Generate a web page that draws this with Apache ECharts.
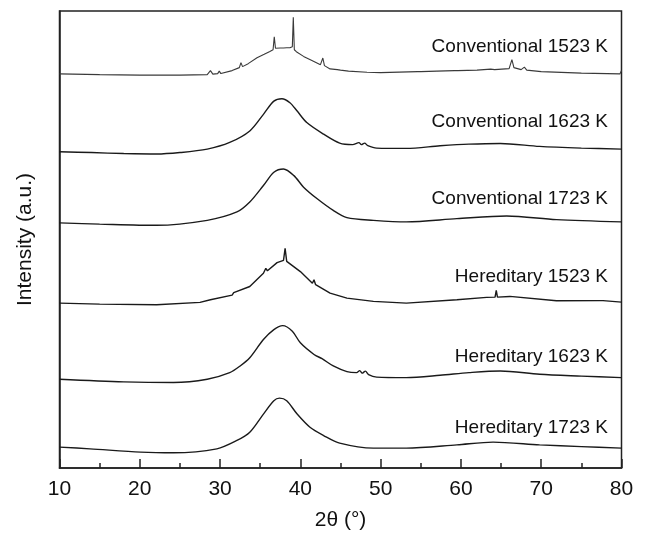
<!DOCTYPE html>
<html>
<head>
<meta charset="utf-8">
<script src="https://cdn.jsdelivr.net/npm/echarts@6/dist/echarts.min.js"></script>
<style>html,body{margin:0;padding:0;background:#fff}#c{width:646px;height:536px}</style>
</head>
<body>
<div id="c"></div>
<script>
// 2θ (deg), intensity (a.u., stacked with offsets already included)
const conv1523 = [[10,396.7],[15,396],[20,395.5],[25,395.5],[28.4,396],[28.8,400],[29.1,396.5],[29.7,397],[29.9,399.5],[30.1,397],[31.5,400],[32.4,403],[32.6,408],[32.8,404],[33.5,407],[34.6,413],[35.5,416.5],[36.2,419.3],[36.6,421],[36.75,434],[36.9,422.5],[37.5,422.7],[37.7,424.5],[37.9,422.7],[38.3,423],[38.45,425],[38.7,423],[39.0,424],[39.12,453.7],[39.25,421],[39.5,419],[40.4,414.3],[41.5,410],[42.5,406],[42.8,412.7],[43.0,405],[43.7,401.7],[44.6,401],[44.8,403],[45.0,400.5],[46,399.5],[48.3,398.3],[50,398],[54.6,399],[54.8,401],[55.0,399],[57,399.5],[59.2,400],[59.4,401.5],[59.6,400],[62,400.5],[63.7,401.5],[63.9,402.5],[64.2,401],[66.0,402],[66.35,411],[66.6,403],[67.5,401],[67.9,403.5],[68.2,400.5],[70,399],[75,397.5],[79.8,396.7],[80,400]];
const conv1623 = [[10,318.3],[14,317.5],[18,316.5],[22.1,316],[25,317.5],[28.4,321],[31.2,327.7],[33.7,339.3],[35.4,356],[36.7,369.3],[37.7,371.7],[38.7,367.7],[39.6,359.3],[40.8,347.7],[42.9,336],[44.9,327],[46.5,325.5],[47.3,327.5],[47.6,325.5],[48.0,327],[48.4,324.5],[49.5,322],[53.2,321.7],[57.4,324.3],[61,326],[64.9,326.7],[69.8,323.7],[75,322],[80,321]];
const conv1723 = [[10,246.7],[15,245.5],[22.1,244.3],[28.4,249.3],[32.1,257.7],[33.7,267.7],[35.4,284.3],[36.7,297.7],[37.9,301],[39.2,294.3],[40.4,282.7],[42.1,271],[44.1,259.3],[45.8,252],[49.1,249.3],[53.2,247.7],[59.5,251],[65.7,253.7],[71.9,250],[80,247.7]];
const her1523 = [[10,166],[15,165],[22.1,164.3],[27.5,166.7],[28.8,169.3],[31.5,174],[31.7,176.5],[31.9,174.5],[33.7,182.7],[35.4,196],[35.7,201],[35.9,198.5],[37.1,206.7],[37.9,209],[38.1,221],[38.3,208],[38.5,206],[40.0,197.7],[41.5,186],[41.7,189.5],[41.9,184.5],[43.7,176],[45.8,171],[49.1,167.7],[53.2,166],[59.5,169.3],[63.2,171.7],[64.25,172],[64.4,178.7],[64.55,172],[66.1,172.7],[71.9,168.3],[77.3,168.5],[77.5,170.5],[77.7,168.5],[80,167]];
const her1623 = [[10,89.3],[18,86.7],[24.2,86],[28.4,89.3],[31.2,96],[32.5,102.7],[33.7,111],[35.4,129.3],[36.7,139.3],[37.8,143.3],[39.0,137.7],[40.0,126],[41.7,114.3],[42.7,110],[44.1,102.7],[45.8,97],[47.0,96],[47.4,98],[47.7,95.5],[48.1,97.5],[48.5,94],[49.5,91.5],[53.2,91],[57.4,93.3],[61,96],[64.9,97.7],[69.8,94.3],[75,92.5],[80,91]];
const her1723 = [[10,21],[13.8,19.3],[20.1,16],[24.2,15.3],[29.6,19.3],[32.1,27.7],[33.7,36],[35.4,54.3],[36.7,67.7],[37.4,70.3],[38.3,67.7],[39.6,54.3],[41.2,41],[42.9,32.7],[44.9,25],[49.1,20],[53.2,20],[59.5,23.3],[64.0,26],[69.8,23.3],[75,21.5],[80,20]];

const seriesNames = ['Conventional 1523 K','Conventional 1623 K','Conventional 1723 K','Hereditary 1523 K','Hereditary 1623 K','Hereditary 1723 K'];
const seriesData = [conv1523, conv1623, conv1723, her1523, her1623, her1723];
const xTicks = [10,20,30,40,50,60,70,80];
const labelY = [48, 123, 200, 278, 358, 429];

const chart = echarts.init(document.getElementById('c'));
const FONT = 'Liberation Sans, Arial, sans-serif';
chart.setOption({
  animation: false,
  grid: {left: 59.5, right: 24.5, top: 11, bottom: 65, show: true, borderColor: '#222', borderWidth: 1.5, containLabel: false},
  xAxis: {
    type: 'value', min: 10, max: 80, interval: 10,
    name: '2θ (°)', nameLocation: 'middle', nameGap: 42,
    nameTextStyle: {fontFamily: FONT, fontSize: 21, color: '#111'},
    axisLine: {show: true, onZero: false, lineStyle: {color: '#222', width: 1.5}},
    axisTick: {show: true, inside: true, length: 9, lineStyle: {color: '#222', width: 1.5}},
    minorTick: {show: true, splitNumber: 2, length: 5, lineStyle: {color: '#222', width: 1.5}},
    axisLabel: {margin: 11, fontFamily: FONT, fontSize: 21, color: '#111',
      formatter: v => xTicks.indexOf(v) >= 0 ? String(v) : ''},
    splitLine: {show: false}
  },
  yAxis: {
    type: 'value', min: 0, max: 460,
    name: 'Intensity (a.u.)', nameLocation: 'middle', nameGap: 24,
    nameTextStyle: {fontFamily: FONT, fontSize: 21, color: '#111'},
    axisLine: {show: true, lineStyle: {color: '#222', width: 1.5}},
    axisTick: {show: false}, axisLabel: {show: false}, splitLine: {show: false}
  },
  series: seriesData.map((d, i) => ({
    name: seriesNames[i], type: 'line', data: d, showSymbol: false,
    lineStyle: {color: i === 0 ? '#3a3a3a' : '#1a1a1a', width: i === 0 ? 1.1 : 1.4},
    smooth: (i === 0 || i === 3) ? false : 0.3
  })),
  graphic: seriesNames.map((n, i) => ({
    type: 'text', right: 38, top: labelY[i] - 11,
    style: {text: n, font: '19px ' + FONT, fill: '#111'}
  }))
});
</script>
</body>
</html>
